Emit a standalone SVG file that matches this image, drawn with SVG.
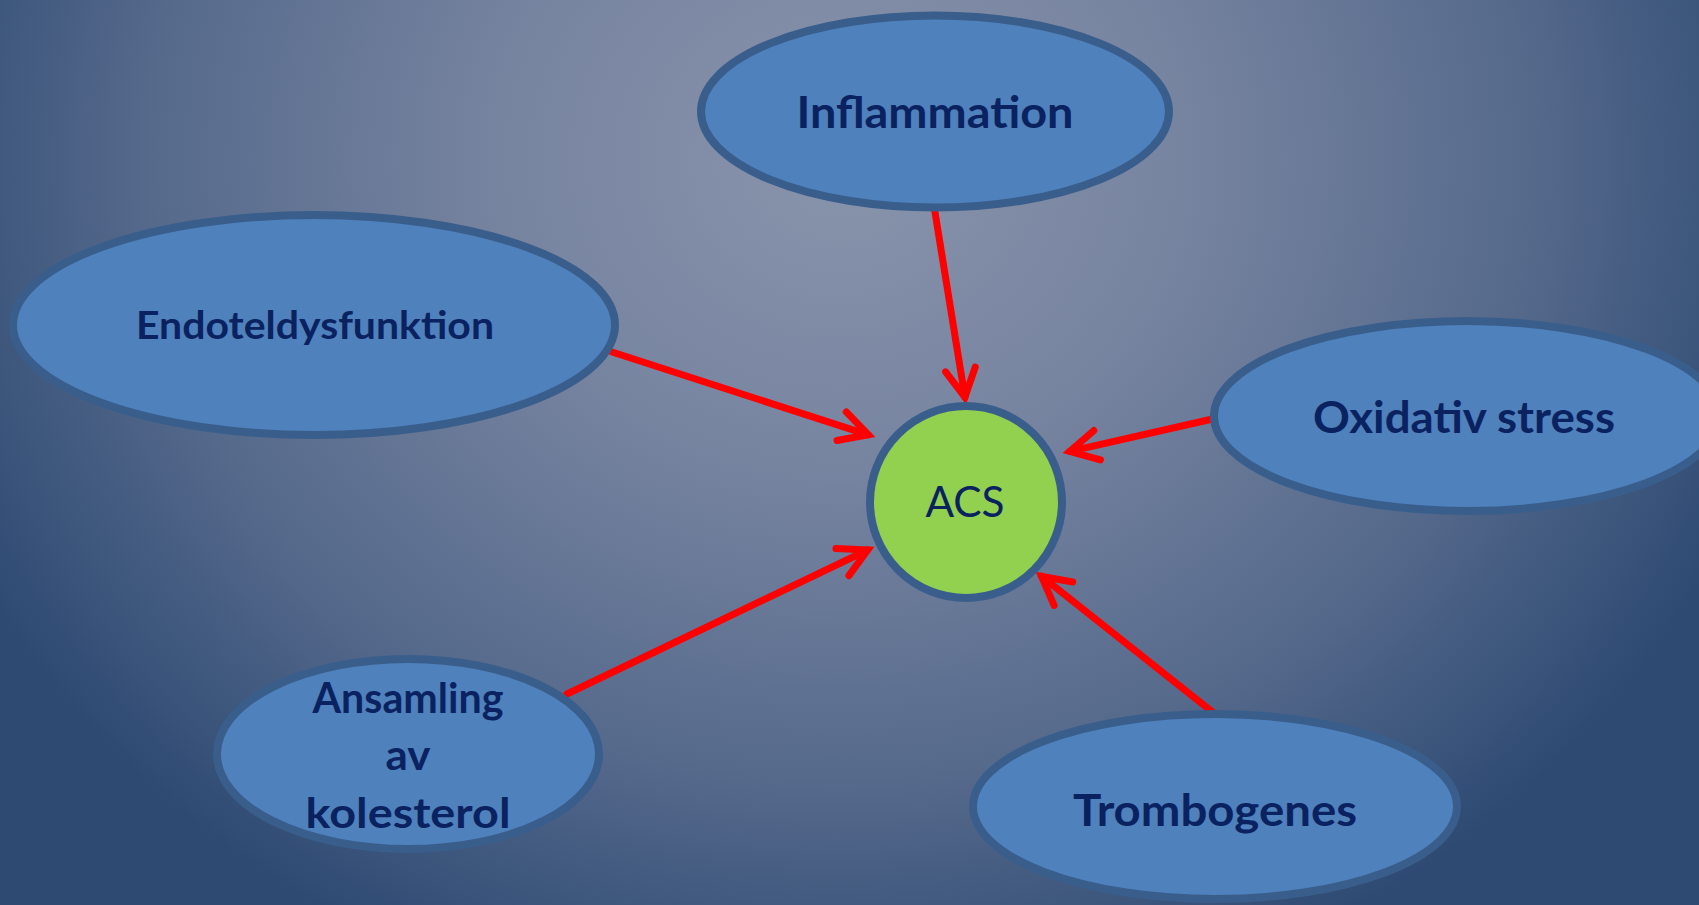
<svg xmlns="http://www.w3.org/2000/svg" width="1699" height="905" viewBox="0 0 1699 905">
  <defs>
    <radialGradient id="bg" gradientUnits="userSpaceOnUse" cx="840" cy="160" r="980" gradientTransform="translate(840 160) scale(1 0.9) translate(-840 -160)">
      <stop offset="0" stop-color="#8994AC"/>
      <stop offset="0.35" stop-color="#7784A0"/>
      <stop offset="0.7" stop-color="#566A8C"/>
      <stop offset="1" stop-color="#2E4A73"/>
    </radialGradient>
    <marker id="arrow" markerUnits="userSpaceOnUse" viewBox="-40 -20 50 40" markerWidth="50" markerHeight="40" refX="0" refY="0" orient="auto" overflow="visible">
      <path d="M -28,-15 L 0,0 L -28,15" fill="none" stroke="#FF0000" stroke-width="7" stroke-linecap="round" stroke-linejoin="miter"/>
    </marker>
    <style>
      .node { fill: #4F81BD; stroke: #3A5E8C; stroke-width: 8; }
      .acs { fill: #92D050; stroke: #3A5E8C; stroke-width: 8; }
      .lbl { font-family: Lato, "Open Sans", "Liberation Sans", sans-serif; font-weight: bold; fill: #0B2260; text-anchor: middle; }
      .acstxt { font-family: Lato, "Open Sans", "Liberation Sans", sans-serif; font-weight: normal; fill: #0B2260; text-anchor: middle; }
      .conn { fill: none; stroke: #FF0000; stroke-width: 7; stroke-linecap: round; marker-end: url(#arrow); }
    </style>
  </defs>
  <rect x="0" y="0" width="1699" height="905" fill="url(#bg)"/>

  <g id="connectors">
    <line class="conn" x1="934" y1="206" x2="964.9" y2="397.1"/>
    <line class="conn" x1="612" y1="352" x2="868.3" y2="434.8"/>
    <line class="conn" x1="567" y1="694" x2="867.7" y2="550"/>
    <line class="conn" x1="1217" y1="418" x2="1069.8" y2="451.4"/>
    <line class="conn" x1="1215" y1="714" x2="1041.5" y2="576.3"/>
  </g>

  <g id="inflammation">
    <ellipse class="node" cx="935" cy="111.5" rx="234" ry="96"/>
    <text class="lbl" x="935" y="128" font-size="44" textLength="277" lengthAdjust="spacingAndGlyphs">Inflammation</text>
  </g>
  <g id="endoteldysfunktion">
    <ellipse class="node" cx="314" cy="325" rx="301" ry="110"/>
    <text class="lbl" x="315" y="339" font-size="37.5" textLength="358" lengthAdjust="spacingAndGlyphs">Endoteldysfunktion</text>
  </g>
  <g id="oxidativ">
    <ellipse class="node" cx="1467" cy="416" rx="253" ry="95"/>
    <text class="lbl" x="1464" y="433" font-size="44" textLength="302" lengthAdjust="spacingAndGlyphs">Oxidativ stress</text>
  </g>
  <g id="ansamling">
    <ellipse class="node" cx="408" cy="754" rx="191" ry="95"/>
    <text class="lbl" x="408" y="713" font-size="42" textLength="191" lengthAdjust="spacingAndGlyphs">Ansamling</text>
    <text class="lbl" x="408" y="770" font-size="42" textLength="45" lengthAdjust="spacingAndGlyphs">av</text>
    <text class="lbl" x="408" y="828" font-size="42" textLength="205" lengthAdjust="spacingAndGlyphs">kolesterol</text>
  </g>
  <g id="trombogenes">
    <ellipse class="node" cx="1215" cy="806.5" rx="242" ry="92.5"/>
    <text class="lbl" x="1215" y="826" font-size="44" textLength="284" lengthAdjust="spacingAndGlyphs">Trombogenes</text>
  </g>
  <g id="acs">
    <circle class="acs" cx="966" cy="502" r="96"/>
    <text class="acstxt" x="965" y="517" font-size="42" textLength="79" lengthAdjust="spacingAndGlyphs">ACS</text>
  </g>
</svg>
